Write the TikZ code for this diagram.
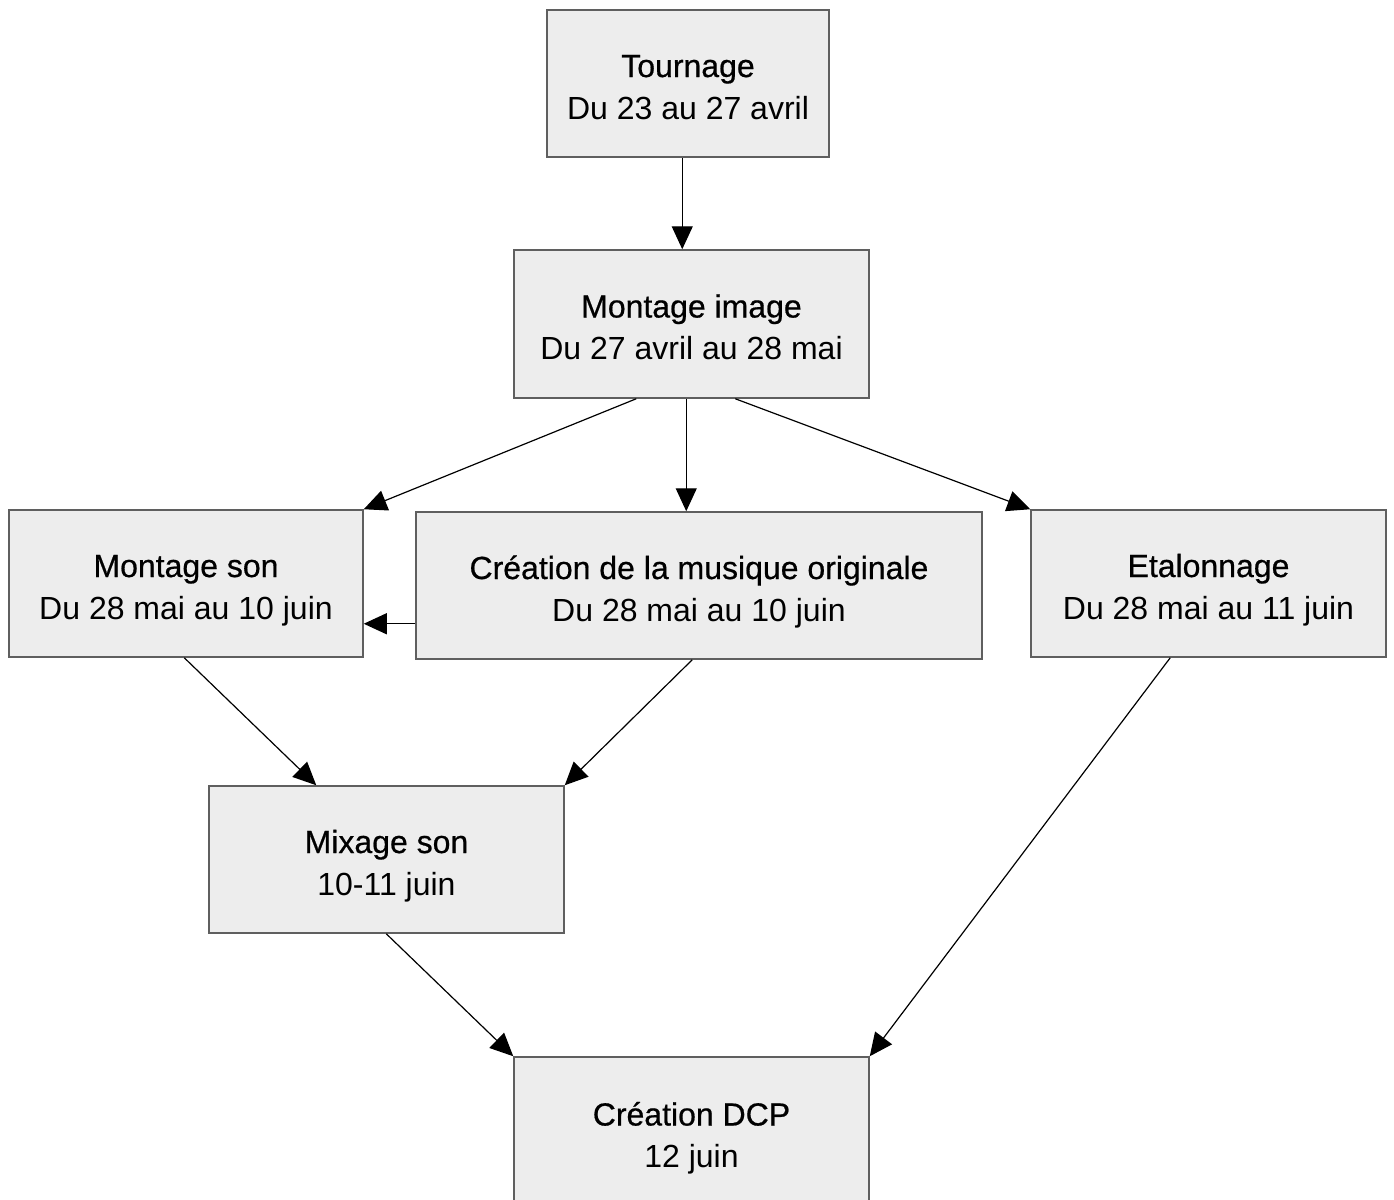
\documentclass[tikz,border=0pt]{standalone}
\usepackage{fontspec}
\setmainfont{Liberation Sans}
\newfontface\titlefont{Liberation Sans}[FakeBold=0.6]
\usetikzlibrary{arrows.meta,calc}
\definecolor{boxfill}{RGB}{237,237,237}
\definecolor{boxline}{RGB}{95,95,95}
\tikzset{
  stagebox/.style={draw=boxline, fill=boxfill, line width=0.75pt, inner sep=0pt,
    align=center, text depth=0pt, font=\fontsize{16pt}{21pt}\selectfont},
  arr/.style={draw=black, line width=0.6pt, -{Triangle[length=11.5pt,width=10.5pt]}}
}
\newcommand\toplift{\rule{0pt}{14.5pt}}
\begin{document}
\begin{tikzpicture}[x=0.5pt,y=-0.5pt]
\useasboundingbox (0,0) rectangle (1394,1200);
\node[stagebox, minimum width=141pt, minimum height=73.5pt] (T) at (688,83.5)
  {\toplift{\titlefont Tournage}\\Du 23 au 27 avril};
\node[stagebox, minimum width=177.5pt, minimum height=74pt] (MI) at (691.5,324)
  {\toplift{\titlefont Montage image}\\Du 27 avril au 28 mai};
\node[stagebox, minimum width=177pt, minimum height=73.5pt] (MS) at (186,583.5)
  {\toplift{\titlefont Montage son}\\Du 28 mai au 10 juin};
\node[stagebox, minimum width=283pt, minimum height=73.5pt] (CM) at (699,585.5)
  {\toplift{\titlefont Création de la musique originale}\\Du 28 mai au 10 juin};
\node[stagebox, minimum width=177.5pt, minimum height=73.5pt] (ET) at (1208.5,583.5)
  {\toplift{\titlefont Etalonnage}\\Du 28 mai au 11 juin};
\node[stagebox, minimum width=177.5pt, minimum height=73.5pt] (MX) at (386.5,859.5)
  {\toplift{\titlefont Mixage son}\\10-11 juin};
\node[stagebox, minimum width=177.5pt, minimum height=75pt] (DCP) at (691.5,1132)
  {\toplift{\titlefont Création DCP}\\12 juin};

\draw[arr] ($(T.south west)+(136,0)$) coordinate (t1) -- (t1 |- MI.north);
\draw[arr] ($(MI.south west)+(123,0)$) -- (MS.north east);
\draw[arr] ($(MI.south west)+(173,0)$) coordinate (m1) -- (m1 |- CM.north);
\draw[arr] ($(MI.south west)+(222,0)$) -- (ET.north west);
\draw[arr] ($(CM.south west)+(0,-36)$) coordinate (c1) -- (c1 -| MS.east);
\draw[arr] ($(MS.south west)+(176,0)$) -- ($(MX.north west)+(108,0)$);
\draw[arr] ($(CM.south west)+(277,0)$) -- (MX.north east);
\draw[arr] ($(ET.south west)+(140,0)$) -- (DCP.north east);
\draw[arr] ($(MX.south west)+(178,0)$) -- (DCP.north west);
\end{tikzpicture}
\end{document}
